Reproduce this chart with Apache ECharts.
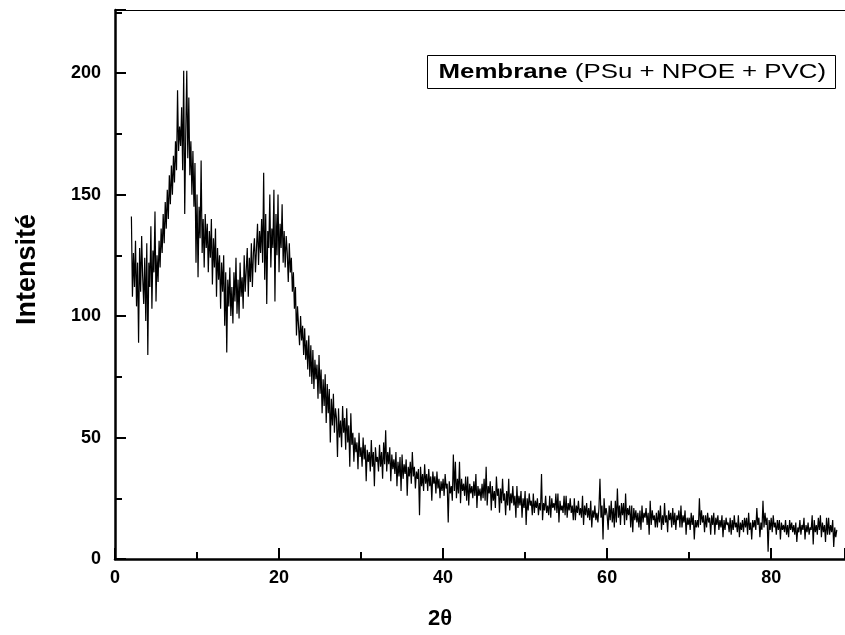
<!DOCTYPE html>
<html>
<head>
<meta charset="utf-8">
<script src="https://cdn.jsdelivr.net/npm/echarts@6/dist/echarts.min.js"></script>
<style>html,body{margin:0;padding:0;background:#fff}#c{width:845px;height:635px}</style>
</head>
<body>
<div id="c"></div>
<script>
// XRD scan: 2θ from scanStart in steps of scanStep (instrument grid)
const scanStart = 2.0;
const scanStep = 0.125;
// Intensities, one row per degree of 2θ (2 .. 87, then 88)
const intensity = [
141,108,126,112,131,104,122,89,
128,110,133,116,105,124,98,130,
84,122,112,137,103,127,118,143,
106,125,114,131,120,136,126,142,
130,147,136,152,140,158,146,162,
150,166,155,172,160,193,168,178,
170,186,160,201,142,175,201,165,
190,158,172,150,168,145,163,122,
150,116,145,132,164,126,140,120,
142,128,138,118,135,124,140,113,
132,120,136,108,128,115,125,103,
122,110,125,96,118,85,115,104,
120,100,112,97,118,106,124,101,
115,99,122,108,116,103,125,110,
119,128,108,124,114,130,112,126,
132,118,128,138,121,135,126,140,
122,159,115,142,105,135,128,150,
120,136,128,152,106,142,125,150,
118,138,128,146,122,135,120,133,
126,114,130,118,124,110,118,103,
112,92,104,96,88,100,90,96,
84,95,82,90,78,92,75,88,
72,86,70,82,74,80,66,84,
68,78,60,74,63,76,56,72,
60,70,48,66,55,68,52,62,
58,42,62,50,57,46,63,52,
58,45,62,48,55,38,60,47,
52,40,50,44,48,37,52,42,
46,38,50,41,47,32,45,40,
44,36,49,38,44,30,46,40,
42,36,47,38,44,33,48,39,
53,36,44,39,46,32,43,37,
41,35,44,30,40,34,42,28,
43,33,39,35,41,26,38,34,
40,31,44,34,38,29,36,33,
37,18,38,30,35,28,39,31,
35,28,37,30,34,24,36,31,
34,27,36,29,33,25,32,28,
33,26,35,29,31,15,32,27,
30,24,43,28,40,25,33,27,
40,23,33,28,31,26,34,24,
34,22,31,27,30,25,32,26,
35,21,30,26,29,24,31,25,
33,24,38,22,30,27,32,20,
30,24,28,21,34,26,29,19,
29,23,33,24,27,18,28,22,
33,20,27,23,30,22,26,17,
30,21,26,22,28,17,25,21,
28,14,25,20,27,22,24,18,
27,19,24,21,25,18,23,20,
35,16,23,20,26,19,22,18,
26,17,25,21,23,20,27,19,
27,15,24,20,22,19,26,18,
26,17,23,20,25,19,22,16,
25,16,22,19,24,18,21,17,
26,14,22,18,23,17,21,16,
24,13,20,17,22,16,19,15,
21,33,17,22,8,25,18,21,
18,12,22,16,24,15,21,13,
24,15,29,17,22,14,23,18,
23,14,27,16,21,18,22,13,
22,11,21,16,20,15,19,13,
20,12,22,15,19,17,21,14,
19,10,24,14,20,16,18,13,
19,13,20,15,22,12,18,14,
23,15,18,11,20,16,19,13,
21,14,19,12,18,16,20,13,
22,13,18,15,20,10,17,14,
17,12,19,14,18,8,16,13,
16,13,25,14,20,15,18,11,
18,13,19,15,17,10,18,14,
19,10,17,14,18,12,16,13,
18,9,16,12,17,14,15,11,
17,10,16,12,18,13,15,11,
18,9,15,12,16,11,17,13,
17,10,19,12,15,8,16,13,
16,12,21,14,17,9,15,12,
24,13,19,14,17,3,16,12,
17,11,18,13,15,10,16,12,
16,8,15,12,14,11,16,10,
14,9,16,12,15,11,14,10,
15,7,13,11,16,10,14,12,
17,8,14,11,15,10,13,12,
18,6,16,11,14,10,17,12,
18,9,15,11,14,7,17,10,
17,10,14,11,16,5,13,9,
12
];
const xTicks = [0, 20, 40, 60, 80];
const yTicks = [0, 50, 100, 150, 200];
const legendBold = 'Membrane';
const legendRest = ' (PSu + NPOE + PVC)';
const xTitle = '2θ';
const yTitle = 'Intensité';

const points = intensity.map((v, i) => [scanStart + i * scanStep, v]);
const FONT = 'Liberation Sans, Arial, sans-serif';

const chart = echarts.init(document.getElementById('c'), null, {renderer: 'canvas'});
chart.setOption({
  animation: false,
  backgroundColor: '#fff',
  grid: {left: 115, right: 0, top: 10, bottom: 76, containLabel: false, outerBoundsMode: 'none'},
  xAxis: [{
    type: 'value', min: 0, max: 89, interval: 20,
    name: xTitle, nameLocation: 'middle', nameGap: 49,
    nameTextStyle: {fontFamily: FONT, fontWeight: 'bold', fontSize: 22, color: '#000', padding: [0, 80, 0, 0]},
    axisLine: {show: true, onZero: false, lineStyle: {color: '#000', width: 2.5}},
    axisTick: {show: true, inside: true, length: 11, lineStyle: {color: '#000', width: 2}},
    minorTick: {show: true, splitNumber: 2, length: 7, lineStyle: {color: '#000', width: 2}},
    axisLabel: {show: true, showMaxLabel: false, margin: 10, fontFamily: FONT, fontWeight: 'bold', fontSize: 18, color: '#000',
      formatter: v => xTicks.includes(v) ? String(v) : ''},
    splitLine: {show: false}
  }, {
    type: 'value', min: 0, max: 89, position: 'top',
    axisLine: {show: true, onZero: false, lineStyle: {color: '#000', width: 1}},
    axisTick: {show: false}, axisLabel: {show: false}, splitLine: {show: false}
  }],
  yAxis: {
    type: 'value', min: 0, max: 226, interval: 50,
    name: yTitle, nameLocation: 'middle', nameGap: 74,
    nameTextStyle: {fontFamily: FONT, fontWeight: 'bold', fontSize: 27, color: '#000', padding: [0, 0, 0, 30]},
    axisLine: {show: true, onZero: false, lineStyle: {color: '#000', width: 2.5}},
    axisTick: {show: true, inside: true, length: 11, lineStyle: {color: '#000', width: 2}},
    minorTick: {show: true, splitNumber: 2, length: 7, lineStyle: {color: '#000', width: 2}},
    axisLabel: {show: true, showMaxLabel: false, margin: 14, fontFamily: FONT, fontWeight: 'bold', fontSize: 18, color: '#000',
      formatter: v => yTicks.includes(v) ? String(v) : ''},
    splitLine: {show: false}
  },
  series: [{
    type: 'line', data: points, xAxisIndex: 0, showSymbol: false, symbol: 'none',
    lineStyle: {color: '#000', width: 1.2}, clip: true
  }],
  graphic: [{
    type: 'group', left: 427, top: 55,
    children: [{
      type: 'rect', shape: {x: 0, y: 0, width: 408, height: 33},
      style: {fill: '#fff', stroke: '#000', lineWidth: 1}
    }, {
      type: 'text', x: 11, y: 17, scaleX: 1.23,
      style: {
        text: '{b|' + legendBold + '}' + legendRest,
        font: '21px ' + FONT, fill: '#000', verticalAlign: 'middle', align: 'left',
        rich: {b: {fontWeight: 'bold', fontSize: 21, fontFamily: FONT, fill: '#000'}}
      }
    }]
  }]
});
</script>
</body>
</html>
